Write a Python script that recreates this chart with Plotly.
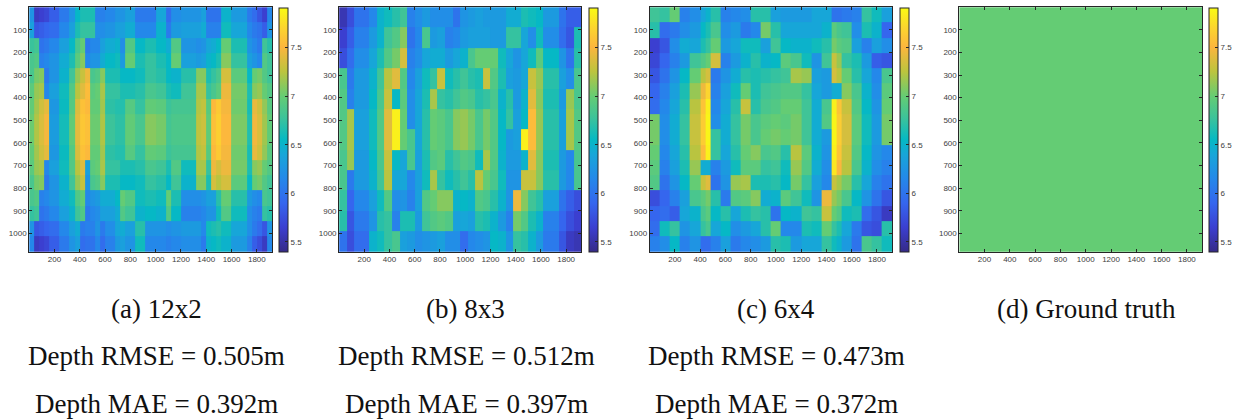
import plotly.graph_objects as go

W, H = 1236, 420
ZMIN, ZMAX = 5.4, 7.91

A_X = [0,40,80,120,160,240,320,360,400,440,480,520,560,600,680,720,760,840,920,1000,1080,1120,1200,1320,1360,1400,1440,1480,1520,1600,1720,1760,1800,1840,1880,1920]
A_Y = [0,67.5,135,202.5,270,337.5,405,472.5,540,607.5,675,742.5,810,877.5,945,1012.5,1080]
A_Z = [
 [6.25,5.6,5.65,5.7,5.85,6.05,6.25,6.55,6.65,6.65,6.65,6.1,6.1,6.15,6.25,6.25,6.35,6.05,6.05,6.4,5.95,6.2,6.25,6.25,6.35,6.0,6.0,6.0,6.5,6.3,6.05,5.95,5.8,5.65,6.15],
 [6.35,5.8,5.85,5.9,5.95,6.15,6.35,6.65,6.75,6.75,6.75,6.2,6.2,6.25,6.35,6.35,6.45,6.15,6.15,6.5,6.05,6.3,6.35,6.35,6.45,6.1,6.1,6.1,6.6,6.4,6.15,6.05,6.0,5.85,6.25],
 [6.77,6.82,6.0,6.05,6.15,6.35,6.55,6.85,7.0,6.05,6.15,6.15,6.35,6.45,6.5,6.2,6.9,6.55,6.65,6.55,6.45,6.9,6.25,6.2,6.25,6.4,6.45,6.55,7.0,6.65,6.25,6.15,6.05,6.8,6.7],
 [6.85,6.9,6.1,6.15,6.25,6.45,6.65,6.95,7.1,6.15,6.25,6.25,6.45,6.55,6.6,6.3,7.0,6.65,6.75,6.65,6.55,7.0,6.35,6.3,6.35,6.5,6.55,6.65,7.1,6.75,6.35,6.25,6.15,6.9,6.8],
 [6.85,7.05,7.1,6.05,6.25,6.5,6.8,7.15,7.3,7.45,6.85,6.9,7.1,6.65,6.65,6.55,6.55,6.6,6.75,6.7,6.55,6.5,6.7,7.1,7.1,6.65,6.75,6.85,7.35,6.95,6.55,7.0,7.05,6.9,6.8],
 [6.95,7.15,7.2,6.15,6.35,6.6,6.9,7.25,7.4,7.55,6.95,7.0,7.2,6.75,6.75,6.65,6.65,6.7,6.85,6.8,6.65,6.6,6.8,7.2,7.2,6.75,6.85,6.95,7.45,7.05,6.65,7.1,7.15,7.0,6.9],
 [6.98,7.18,7.33,7.42,6.28,6.58,6.92,7.38,7.58,7.53,6.98,6.98,7.18,6.72,6.68,6.68,6.92,6.75,6.98,6.95,6.78,6.83,6.83,7.23,7.28,6.93,7.53,7.63,7.48,7.03,6.63,7.43,7.33,7.13,6.93],
 [7.02,7.22,7.37,7.48,6.32,6.62,6.98,7.42,7.62,7.57,7.02,7.02,7.22,6.78,6.72,6.72,6.98,6.85,7.1,7.05,6.82,6.87,6.87,7.27,7.32,6.97,7.57,7.67,7.52,7.07,6.67,7.47,7.37,7.17,6.97],
 [7.02,7.22,7.37,7.48,6.32,6.62,6.98,7.42,7.62,7.57,7.02,7.02,7.22,6.78,6.72,6.72,6.98,6.85,7.1,7.05,6.82,6.87,6.87,7.27,7.32,6.97,7.57,7.67,7.52,7.07,6.67,7.47,7.37,7.17,6.97],
 [6.98,7.18,7.33,7.42,6.28,6.58,6.92,7.38,7.58,7.53,6.98,6.98,7.18,6.72,6.68,6.68,6.92,6.75,6.98,6.95,6.78,6.83,6.83,7.23,7.28,6.93,7.53,7.63,7.48,7.03,6.63,7.43,7.33,7.13,6.93],
 [6.95,7.15,7.2,6.15,6.35,6.6,6.9,7.25,7.4,6.35,6.95,7.0,7.2,6.75,6.75,6.65,6.65,6.7,6.85,6.8,6.65,6.9,6.6,7.2,7.2,6.75,7.45,7.35,7.45,7.05,6.65,7.1,7.15,7.0,6.9],
 [6.85,7.05,7.1,6.05,6.25,6.5,6.8,7.15,7.3,6.25,6.85,6.9,7.1,6.65,6.65,6.55,6.55,6.6,6.75,6.7,6.55,6.8,6.5,7.1,7.1,6.65,7.35,7.25,7.35,6.95,6.55,7.0,7.05,6.9,6.8],
 [6.85,6.9,6.1,6.15,6.25,6.45,6.6,6.9,7.0,6.15,6.25,6.3,6.45,6.45,6.55,7.0,6.9,6.6,6.65,6.6,7.0,6.65,6.2,6.2,6.25,6.35,6.35,6.7,7.0,6.7,6.3,6.2,6.15,6.85,6.8],
 [6.75,6.8,6.0,6.05,6.15,6.35,6.5,6.8,6.9,6.05,6.15,6.2,6.35,6.35,6.45,6.9,6.8,6.5,6.55,6.5,6.9,6.55,6.1,6.1,6.15,6.25,6.25,6.6,6.9,6.6,6.2,6.1,6.05,6.75,6.7],
 [6.25,5.8,5.85,5.9,5.95,6.15,6.35,6.45,6.05,6.1,6.1,6.25,6.05,6.2,6.4,6.45,6.35,6.7,6.25,6.25,6.2,6.25,6.3,6.3,6.15,6.6,6.65,6.7,6.6,6.4,6.2,6.05,5.95,5.8,6.25],
 [6.15,5.6,5.65,5.7,5.85,6.05,6.25,6.35,5.95,6.0,6.0,6.15,5.95,6.1,6.3,6.35,6.25,6.6,6.15,6.15,6.1,6.15,6.2,6.2,6.05,6.5,6.55,6.6,6.5,6.3,6.1,5.85,5.75,5.6,6.15],
]

B_X = [0,60,120,240,300,360,420,480,540,600,660,720,780,840,900,960,1020,1080,1140,1200,1260,1320,1380,1440,1500,1560,1620,1740,1800,1860,1920]
B_Y = [0,90,180,270,360,450,540,630,720,810,900,990,1080]
B_Z = [
 [5.55,5.75,6.0,6.15,6.5,6.6,6.7,6.8,6.1,6.2,6.3,6.2,6.2,6.2,6.0,6.25,6.3,6.35,6.3,6.3,6.3,6.45,6.45,6.65,6.6,6.55,6.3,6.0,5.85,5.85],
 [5.65,5.85,6.1,6.3,6.5,6.8,6.9,7.1,6.0,6.15,6.85,6.3,6.35,6.1,6.15,6.3,6.35,6.35,6.35,6.3,6.3,6.75,6.75,6.4,6.2,6.6,6.2,5.95,5.8,6.65],
 [5.75,5.95,6.2,6.4,6.65,6.9,7.05,7.35,6.1,6.2,6.4,6.45,6.45,6.3,6.4,6.5,6.85,7.0,7.0,7.0,6.6,6.4,6.25,6.4,6.6,6.95,6.55,6.25,6.0,6.7],
 [6.85,6.05,6.3,6.5,6.8,7.25,7.4,6.9,6.15,6.35,6.6,6.75,7.3,6.6,6.7,6.8,6.7,6.65,7.3,6.9,6.65,6.35,6.3,6.4,7.3,7.15,6.7,6.35,6.2,6.85],
 [6.9,6.1,6.3,6.55,6.85,7.3,6.55,6.95,6.2,6.4,6.65,7.2,6.75,6.7,6.8,6.9,6.85,6.7,6.75,6.85,6.5,6.7,6.3,6.5,7.4,7.1,6.65,6.3,7.15,6.85],
 [6.9,7.2,6.35,6.6,6.9,7.4,7.85,7.0,6.2,6.4,6.7,7.0,6.95,6.85,7.1,7.15,7.05,6.85,7.05,6.9,6.55,6.75,6.35,6.55,7.55,7.15,6.7,6.35,7.2,6.9],
 [6.9,7.2,6.35,6.6,6.9,7.4,7.85,7.0,6.85,6.4,6.7,7.0,6.95,6.85,7.1,7.15,7.05,6.85,7.05,6.9,6.55,6.3,6.35,7.85,7.55,7.15,6.7,6.35,7.2,6.9],
 [6.85,7.15,6.3,6.55,6.85,7.3,6.55,6.4,6.85,6.35,6.65,6.9,6.95,6.7,6.8,6.9,6.85,6.6,7.2,6.9,6.5,6.3,6.3,6.5,7.4,7.1,6.65,6.3,6.15,6.85],
 [6.85,6.05,6.3,6.5,6.8,7.25,6.4,6.4,6.15,6.35,6.6,7.2,6.75,6.6,6.7,6.8,6.7,7.25,7.0,6.85,6.6,6.25,6.25,7.3,7.3,7.1,6.7,6.3,6.15,6.85],
 [6.75,5.9,6.15,6.35,6.6,6.9,6.2,6.25,6.1,6.35,6.9,7.0,7.1,7.1,6.5,6.55,6.5,6.9,6.85,6.7,6.5,6.25,7.45,7.1,6.8,6.7,6.35,6.0,5.85,5.75],
 [6.7,5.8,6.05,6.25,6.7,6.75,6.1,6.65,6.65,6.3,6.8,6.9,6.95,6.9,6.35,6.4,6.35,6.7,6.65,6.5,6.3,6.1,7.05,6.9,6.65,6.5,6.1,5.9,5.75,5.65],
 [6.0,5.75,5.95,6.5,6.6,6.75,6.85,6.35,6.3,6.2,6.25,6.3,6.35,6.2,6.2,5.95,6.15,6.2,6.25,6.55,6.5,6.25,6.75,6.7,6.5,6.3,6.05,5.8,5.6,5.55],
]

C_X = [0,80,160,240,320,400,440,480,560,640,720,800,880,960,1040,1120,1200,1280,1360,1440,1480,1520,1600,1680,1760,1840,1920]
C_Y = [0,67.5,135,202.5,270,337.5,405,472.5,540,607.5,675,742.5,810,877.5,945,1012.5,1080]
C_Z = [
 [6.8,6.75,7.0,6.1,6.2,6.4,6.5,6.7,6.1,6.15,6.2,6.7,6.7,6.35,6.3,6.3,6.3,6.4,6.4,6.0,6.0,6.05,6.1,6.75,6.6,6.35],
 [6.7,5.95,6.05,6.2,6.3,6.55,6.65,6.85,6.2,6.3,6.05,6.15,7.05,6.7,6.4,6.4,6.4,6.4,6.5,6.95,6.85,6.8,6.2,6.65,6.5,5.9],
 [5.65,5.8,6.2,6.45,6.4,6.65,6.75,7.0,6.3,6.4,6.6,6.6,6.35,6.8,6.55,6.5,6.5,6.6,6.7,7.05,6.95,6.9,6.35,6.1,6.35,6.2],
 [5.7,5.9,6.1,6.3,6.8,6.9,7.0,7.35,6.1,6.3,6.5,6.7,6.5,6.55,6.95,6.85,6.6,6.25,6.8,7.3,7.15,6.75,6.65,6.3,5.85,5.8],
 [5.8,6.0,6.25,6.55,7.0,7.25,7.35,6.05,6.25,6.45,6.7,6.65,6.7,6.75,6.8,7.2,7.15,6.35,6.3,7.35,7.25,7.0,6.7,6.4,6.15,6.85],
 [5.9,6.1,6.35,6.65,7.15,7.45,7.7,6.1,6.35,6.6,7.0,6.65,6.8,6.85,6.9,6.9,6.75,6.4,6.3,6.45,6.45,7.1,6.85,6.5,6.2,6.95],
 [5.95,6.15,6.4,6.7,7.25,7.6,7.85,6.15,6.4,6.7,7.3,6.7,6.85,6.9,7.0,7.0,6.8,6.45,6.85,7.85,7.6,7.3,6.9,6.55,6.25,7.0],
 [7.05,6.2,6.45,6.75,7.3,7.65,7.88,6.2,6.45,6.75,7.05,6.85,6.95,7.0,6.95,7.05,6.8,6.45,6.9,7.88,7.65,7.35,6.95,6.6,6.3,7.05],
 [7.05,6.2,6.45,6.75,7.3,7.65,7.88,6.75,6.45,6.75,7.05,6.85,7.0,7.05,7.0,7.05,6.8,6.45,6.3,7.88,7.65,7.35,6.95,6.6,6.3,7.05],
 [7.0,6.15,6.4,6.7,7.25,7.55,7.85,6.75,6.4,6.7,7.0,7.1,6.85,6.9,6.7,7.25,6.95,6.5,6.25,7.85,7.6,7.3,6.9,6.55,6.25,6.15],
 [6.95,6.1,6.35,6.65,7.15,6.45,6.45,6.1,6.3,6.6,6.95,6.95,6.75,6.8,6.6,7.15,6.9,6.45,6.2,7.8,7.5,7.25,6.85,6.5,6.2,6.1],
 [6.9,6.0,6.25,6.55,7.0,7.3,7.4,6.0,6.25,7.15,7.2,6.65,6.65,6.7,6.55,7.05,6.75,6.35,6.15,7.3,7.2,7.05,6.7,6.4,6.1,6.0],
 [5.75,5.9,6.1,6.35,6.85,6.95,7.05,6.7,6.05,6.9,6.95,7.1,6.45,6.5,6.95,6.8,6.6,6.25,7.45,7.15,7.05,6.85,6.55,6.25,6.0,5.8],
 [5.9,5.95,5.85,6.4,6.5,6.85,6.95,6.55,6.7,6.4,6.65,6.75,6.7,6.0,6.55,6.5,6.8,6.75,7.3,7.0,6.9,6.6,6.65,5.95,5.8,5.6],
 [5.95,6.6,6.75,6.25,6.4,6.75,6.85,6.4,6.55,6.2,6.3,6.4,6.7,7.0,6.15,6.15,6.65,6.6,7.0,6.75,6.65,6.4,6.05,5.8,5.75,6.7],
 [6.1,6.2,6.55,6.1,6.25,5.95,5.95,6.1,6.35,6.05,6.15,6.2,6.3,6.7,6.65,6.3,6.4,6.4,6.75,6.6,6.5,6.3,6.0,6.85,6.75,6.6],
]

D_X = [0,1920]
D_Y = [0,1080]
D_Z = [[7.0]]

COLORBAR_TICKS = [5.5, 6, 6.5, 7, 7.5]
COLORBAR_LABELS = ["5.5", "6", "6.5", "7", "7.5"]
X_TICKS = [200,400,600,800,1000,1200,1400,1600,1800]
Y_TICKS = [100,200,300,400,500,600,700,800,900,1000]

CAPTIONS = ["(a) 12x2", "(b) 8x3", "(c) 6x4", "(d) Ground truth"]
RMSE = ["Depth RMSE = 0.505m", "Depth RMSE = 0.512m", "Depth RMSE = 0.473m"]
MAE = ["Depth MAE = 0.392m", "Depth MAE = 0.397m", "Depth MAE = 0.372m"]

PARULA = [
 [0.00, "#352a87"], [0.10, "#3b3fd0"], [0.20, "#3566ee"], [0.30, "#2488ea"],
 [0.40, "#17a6d8"], [0.46, "#05b9c4"], [0.55, "#3cc39a"], [0.637, "#64cc74"],
 [0.74, "#bcc43e"], [0.84, "#fcb63e"], [0.92, "#fcd52e"], [1.00, "#f9fb14"],
]

PANELS = [
 (A_X, A_Y, A_Z, 29.3, 272.7, 279.3, 288.7),
 (B_X, B_Y, B_Z, 340.0, 582.7, 590.0, 598.7),
 (C_X, C_Y, C_Z, 651.3, 894.3, 901.7, 910.7),
 (D_X, D_Y, D_Z, 961.7, 1205.0, 1211.7, 1220.7),
]
TOP, BOTTOM = 7.3, 251.7
INK = "#262626"
TICK = "#404040"
TICK_FONT = dict(family="Liberation Sans", size=8, color=TICK)

fig = go.Figure()
layout = {}
for i, (xs, ys, zs, x0, x1, cb0, cb1) in enumerate(PANELS):
    n = "" if i == 0 else str(i + 1)
    assert all(len(r) == len(xs) - 1 for r in zs) and len(zs) == len(ys) - 1
    fig.add_trace(go.Heatmap(
        x=xs, y=ys, z=zs, zmin=ZMIN, zmax=ZMAX, colorscale=PARULA,
        xaxis="x" + n, yaxis="y" + n, hoverinfo="skip",
        colorbar=dict(
            x=cb0 / W, xanchor="left", xref="paper",
            y=1 - BOTTOM / H, yanchor="bottom", yref="paper",
            len=(BOTTOM - TOP) / H, lenmode="fraction",
            thickness=cb1 - cb0, thicknessmode="pixels",
            xpad=0, ypad=0, outlinecolor=INK, outlinewidth=1,
            tickmode="array", tickvals=COLORBAR_TICKS, ticktext=COLORBAR_LABELS,
            ticks="inside", ticklen=3, tickcolor=INK, tickwidth=1,
            tickfont=TICK_FONT,
        ),
    ))
    layout["xaxis" + n] = dict(
        domain=[x0 / W, x1 / W], range=[1, 1920], anchor="y" + n,
        tickmode="array", tickvals=X_TICKS, ticks="inside", ticklen=3, tickwidth=1, tickcolor=INK,
        showline=True, linecolor=INK, linewidth=1, mirror="ticks", showgrid=False, zeroline=False,
        tickfont=TICK_FONT,
    )
    layout["yaxis" + n] = dict(
        domain=[1 - BOTTOM / H, 1 - TOP / H], range=[1080, 1], anchor="x" + n,
        tickmode="array", tickvals=Y_TICKS, ticks="inside", ticklen=3, tickwidth=1, tickcolor=INK,
        showline=True, linecolor=INK, linewidth=1, mirror="ticks", showgrid=False, zeroline=False,
        tickfont=TICK_FONT,
    )

CENTERS_CAP = [156.7, 467, 778, 1089]
CENTERS_TXT = [156.7, 467.5, 778]
annotations = []
def note(text, cx, cy):
    annotations.append(dict(text=text, x=cx / W, y=1 - cy / H, xref="paper", yref="paper",
                            xanchor="center", yanchor="middle", showarrow=False,
                            font=dict(family="Liberation Serif", size=27, color="#111111")))
for t, c in zip(CAPTIONS, CENTERS_CAP):
    note(t, c, 309)
for t, c in zip(RMSE, CENTERS_TXT):
    note(t, c, 356)
for t, c in zip(MAE, CENTERS_TXT):
    note(t, c, 404)

fig.update_layout(width=W, height=H, margin=dict(l=0, r=0, t=0, b=0),
                  paper_bgcolor="white", plot_bgcolor="white", showlegend=False,
                  annotations=annotations, **layout)
fig.write_html("out.html", config={"displayModeBar": False},
               post_script="document.body.style.margin='0';document.documentElement.style.overflow='hidden';")
